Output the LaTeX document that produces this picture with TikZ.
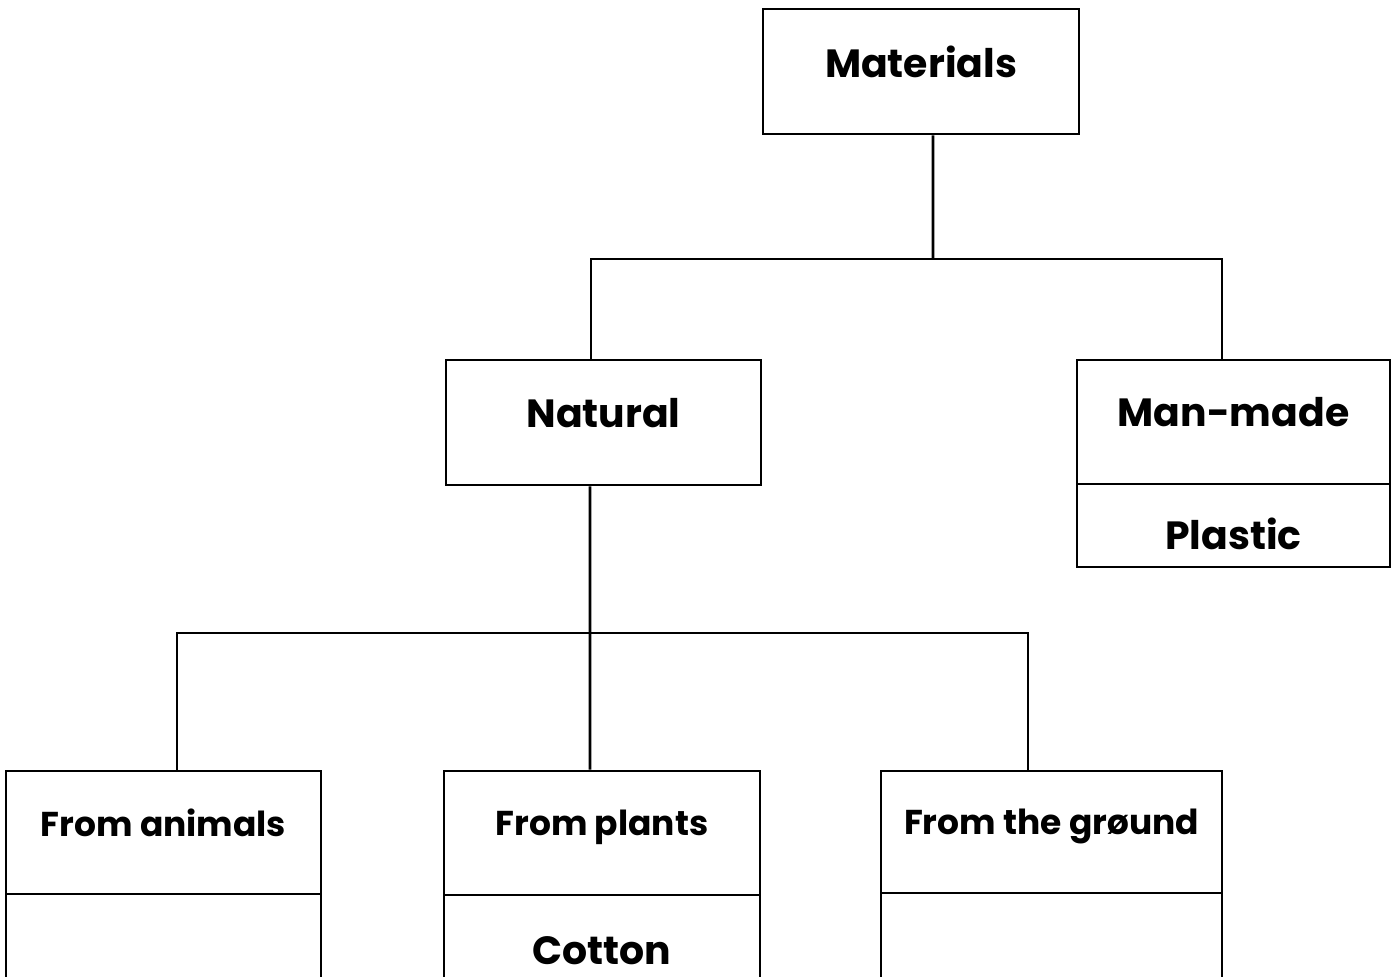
\documentclass[tikz,border=0pt]{standalone}
\usepackage{fontspec}
\setmainfont{Poppins}
\usepackage{tikz}

\begin{document}
\begin{tikzpicture}[
  x=0.01cm, y=-0.01cm,
  box/.style={draw, line width=0.75pt, rectangle, inner sep=0pt,
    minimum width=3.15cm, text depth=0.2cm,
    font=\bfseries\fontsize{11.2}{13}\selectfont},
  sub/.style={box, font=\bfseries\fontsize{9.8}{12}\selectfont},
  lower/.style={box, text depth=0pt, text height=0.48cm},
  link/.style={line width=0.75pt},
]
  \useasboundingbox (0,0) rectangle (1396,977);

  % Top level
  \node[box, minimum width=3.16cm, minimum height=1.25cm] (mat) at (921,71.5) {Materials};

  % Second level
  \node[box, minimum height=1.25cm] (nat) at (603.5,422.5) {Natural};
  \node[box, minimum width=3.13cm, minimum height=1.24cm] (man) at (1233.5,422) {Man-made};
  \node[lower, minimum width=3.13cm, minimum height=0.83cm] (plastic) at (1233.5,525.5) {Plastic};

  % Third level
  \node[sub, minimum height=1.23cm] (anim) at (163.5,832.5) {From animals};
  \node[lower, minimum height=0.91cm] (animx) at (163.5,939.5) {};
  \node[sub, minimum width=3.16cm, minimum height=1.24cm] (plants) at (602,833) {From plants};
  \node[lower, minimum width=3.16cm, minimum height=0.9cm] (cotton) at (602,940) {Cotton};
  \node[sub, minimum width=3.41cm, minimum height=1.22cm] (ground) at (1051.5,832) {From the grøund};
  \node[lower, minimum width=3.41cm, minimum height=0.92cm] (groundx) at (1051.5,939) {};

  % Connectors
  \coordinate (j1) at (933,259);
  \coordinate (j2) at (590,633);
  \draw[link] ([xshift=1.2mm]mat.south) -- (j1);
  \draw[link] ([xshift=-1.25mm]nat.north) |- (j1) -| ([xshift=-1.15mm]man.north);
  \draw[link] ([xshift=-1.35mm]nat.south) -- ([xshift=-1.2mm]plants.north);
  \draw[link] ([xshift=1.35mm]anim.north) |- (j2) -| ([xshift=-2.35mm]ground.north);
\end{tikzpicture}
\end{document}
